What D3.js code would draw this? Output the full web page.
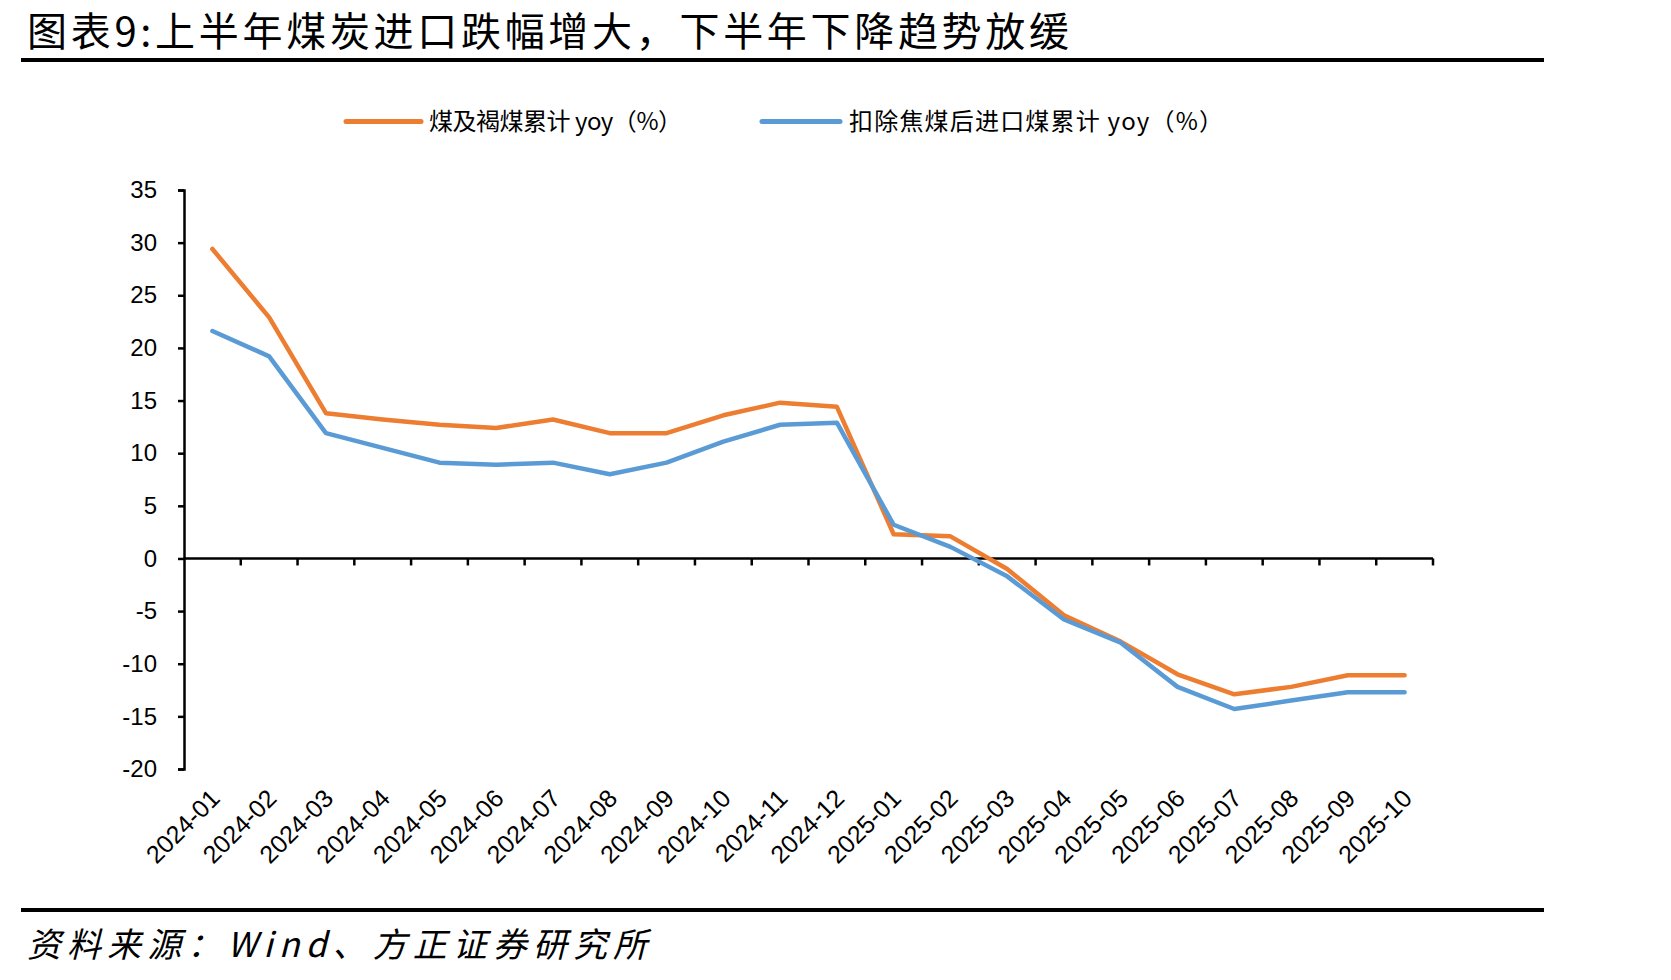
<!DOCTYPE html>
<html><head><meta charset="utf-8">
<script src="https://cdn.jsdelivr.net/npm/d3@7"></script>
<style>html,body{margin:0;padding:0;background:#fff;}svg{display:block;}</style>
</head><body>
<svg id="chart" width="1671" height="980"></svg>
<script>
const categories = ["2024-01","2024-02","2024-03","2024-04","2024-05","2024-06","2024-07","2024-08","2024-09","2024-10","2024-11","2024-12",
  "2025-01","2025-02","2025-03","2025-04","2025-05","2025-06","2025-07","2025-08","2025-09","2025-10"];
const coalLigniteYoy = [29.4,22.9,13.8,13.2,12.7,12.4,13.2,11.9,11.9,13.6,14.8,14.4,
  2.3,2.1,-1.0,-5.4,-7.9,-11.0,-12.9,-12.2,-11.1,-11.1];
const exCokingYoy = [21.6,19.2,11.9,10.5,9.1,8.9,9.1,8.0,9.1,11.1,12.7,12.9,
  3.2,1.1,-1.7,-5.8,-8.0,-12.2,-14.3,-13.5,-12.7,-12.7];
const yTicks = [35,30,25,20,15,10,5,0,-5,-10,-15,-20];
const seriesNames = ["煤及褐煤累计  yoy（%）","扣除焦煤后进口煤累计 yoy（%）"];
const seriesColors = ["#ED7D31","#5B9BD5"];
const titleText = "图表9:上半年煤炭进口跌幅增大，下半年下降趋势放缓";
const sourceText = "资料来源：Wind、方正证券研究所";

const svg = d3.select("#chart");
const cjk = "'Noto Sans CJK SC','Noto Sans',sans-serif";
const latin = "'Liberation Sans',Arial,sans-serif";

// Title
svg.append("text").attr("x",27).attr("y",46).attr("font-family",cjk).attr("font-size",40)
  .attr("textLength",1042).attr("lengthAdjust","spacing").attr("fill","#000").text(titleText);
svg.append("line").attr("x1",21).attr("x2",1544).attr("y1",60).attr("y2",60).attr("stroke","#000").attr("stroke-width",4);

// Footer
svg.append("line").attr("x1",21).attr("x2",1544).attr("y1",910).attr("y2",910).attr("stroke","#000").attr("stroke-width",4);
svg.append("text").attr("x",27).attr("y",957).attr("font-family",cjk).attr("font-size",34).attr("font-style","italic")
  .attr("textLength",620).attr("lengthAdjust","spacing").attr("fill","#000").text(sourceText);

// Scales
const x = d3.scaleBand().domain(categories).range([184,1433]);
const y = d3.scaleLinear().domain([-20,35]).range([769,190]);

// Y axis
const yAxis = d3.axisLeft(y).tickValues(yTicks).tickSize(6).tickPadding(21).tickFormat(d => String(d));
const gy = svg.append("g").attr("transform","translate(184,0)").call(yAxis);
gy.select(".domain").attr("stroke","#000").attr("stroke-width",2.5);
gy.selectAll(".tick line").attr("stroke","#000").attr("stroke-width",2.5);
gy.selectAll(".tick text").attr("font-family",latin).attr("font-size",24).attr("fill","#000");

// X axis at y=0 with boundary ticks
const gx = svg.append("g").attr("transform",`translate(0,${y(0)})`);
gx.append("line").attr("x1",184).attr("x2",1433).attr("y1",0).attr("y2",0).attr("stroke","#000").attr("stroke-width",2.5);
const bounds = categories.map(c => x(c)).concat([x(categories[categories.length-1]) + x.bandwidth()]);
gx.selectAll("line.tk").data(bounds.slice(1)).join("line").attr("class","tk")
  .attr("x1",d=>d).attr("x2",d=>d).attr("y1",0).attr("y2",7).attr("stroke","#000").attr("stroke-width",2.5);

// X labels
svg.append("g").selectAll("text").data(categories).join("text")
  .attr("transform",d=>`translate(${x(d)+x.bandwidth()/2+9},${800}) rotate(-45)`)
  .attr("text-anchor","end").attr("font-family",latin).attr("font-size",25).attr("fill","#000").text(d=>d);

// Lines
const line = d3.line().x((d,i)=>x(categories[i])+x.bandwidth()/2).y(d=>y(d));
[coalLigniteYoy, exCokingYoy].forEach((s,k)=>{
  svg.append("path").datum(s).attr("d",line).attr("fill","none").attr("stroke",seriesColors[k])
    .attr("stroke-width",4.5).attr("stroke-linejoin","round").attr("stroke-linecap","round");
});

// Legend
const legend = [
  {x1:346,x2:421,tx:429,tl:253},
  {x1:762,x2:840,tx:849,tl:374}
];
legend.forEach((L,k)=>{
  svg.append("line").attr("x1",L.x1).attr("x2",L.x2).attr("y1",121.5).attr("y2",121.5)
    .attr("stroke",seriesColors[k]).attr("stroke-width",5).attr("stroke-linecap","round");
  svg.append("text").attr("x",L.tx).attr("y",130).attr("font-family",cjk).attr("font-size",24)
    .attr("textLength",L.tl).attr("lengthAdjust","spacing").attr("fill","#000").text(seriesNames[k]);
});
</script>
</body></html>
